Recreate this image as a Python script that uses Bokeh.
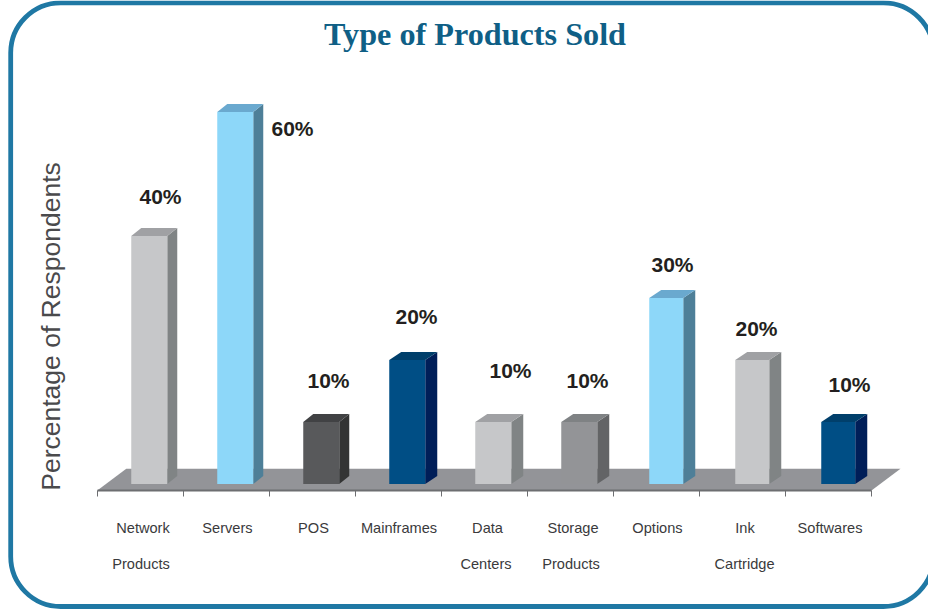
from bokeh.plotting import figure
from bokeh.models import ColumnDataSource, BoxAnnotation, LinearAxis, FixedTicker, Range1d
from bokeh.core.properties import value as val
from bokeh.embed import file_html
from bokeh.resources import INLINE

categories = ["Network Products", "Servers", "POS", "Mainframes", "Data Centers",
              "Storage Products", "Options", "Ink Cartridge", "Softwares"]
values = [40, 60, 10, 20, 10, 10, 30, 20, 10]
title_text = "Type of Products Sold"
ylabel_text = "Percentage of Respondents"

front_colors = ["#C6C7C9", "#8DD7F9", "#58595B", "#004E85", "#C6C7C9", "#939497", "#8DD7F9", "#C6C7C9", "#004E85"]
side_colors = ["#808485", "#4E7F98", "#333434", "#001E58", "#808485", "#636466", "#4E7F98", "#808485", "#001E58"]
top_colors = ["#A0A1A4", "#6AA9CF", "#414244", "#003F6B", "#A0A1A4", "#7F8284", "#6AA9CF", "#A0A1A4", "#003F6B"]

# small differences in the drawing of each 3-D box, in pixels
bar_width_px = [36, 36, 36, 36, 36, 36, 34, 34, 34]
bar_shift_px = [0, 0, 0, 0, 0, 0, 1, 1, 1]
bar_depth_px = [10, 10, 10, 12, 12, 12, 12, 12, 12]

PX_X = 86.0   # pixels per category
PX_Y = 6.2    # pixels per percentage point
W, H = 928, 611
X0_PX, Y0_PX = 148.75, 483.5

p = figure(width=W, height=H, output_backend="svg", toolbar_location=None,
           x_range=Range1d(-X0_PX / PX_X, (W - X0_PX) / PX_X),
           y_range=Range1d((Y0_PX - H) / PX_Y, Y0_PX / PX_Y),
           min_border=0, outline_line_color=None, background_fill_color="white")
p.xaxis.visible = False
p.yaxis.visible = False
p.grid.visible = False
p.renderers = []

dy = 8 / PX_Y
n = len(values)
idx = list(range(n))
lefts = [i + (bar_shift_px[i] - bar_width_px[i] / 2) / PX_X for i in idx]
rights = [i + (bar_shift_px[i] + bar_width_px[i] / 2) / PX_X for i in idx]
depths = [d / PX_X for d in bar_depth_px]

# floor
edge_l, edge_r = -52 / PX_X, n - 1 + 34.25 / PX_X
floor_b, floor_t = -6.5 / PX_Y, 15.2 / PX_Y
shift = 29 / PX_X
p.patch([edge_l, edge_r, edge_r + shift, edge_l + shift], [floor_b, floor_b, floor_t, floor_t],
        fill_color="#939498", line_color=None)

# bar faces
p.patches([[r, r + d, r + d, r] for r, d in zip(rights, depths)],
          [[0, dy, v + dy, v] for v in values], fill_color=side_colors, line_color=None)
p.patches([[l, r, r + d, l + d] for l, r, d in zip(lefts, rights, depths)],
          [[v, v, v + dy, v + dy] for v in values], fill_color=top_colors, line_color=None)
p.quad(left=lefts, right=rights, bottom=[0] * n, top=values,
       fill_color=front_colors, line_color=None)

# axis with ticks between the categories
axis = LinearAxis(ticker=FixedTicker(ticks=[edge_l + i for i in range(n + 1)]),
                  fixed_location=floor_b, bounds=(edge_l, edge_r),
                  axis_line_color="#6D6E71", axis_line_width=2,
                  major_tick_line_color="#6D6E71", major_tick_line_width=1,
                  major_tick_in=0, major_tick_out=6, minor_tick_line_color=None,
                  major_label_text_font_size="0px", major_label_text_color=None)
p.add_layout(axis, "below")

# category labels in up to two lines
first_dx = [-6.25, -7.75, -7.75, -8.25, -5.75, -6.25, -7.75, -6.25, -7.25]
second_dx = [-8.25, 0, 0, 0, -7.25, -8.25, 0, -6.75, 0]
line_x, line_y, line_t, line_o = [], [], [], []
for i, cat in enumerate(categories):
    parts = cat.split(" ")
    for j, part in enumerate(parts):
        line_x.append(i)
        line_y.append((Y0_PX - (527 if j == 0 else 563)) / PX_Y)
        line_t.append(part)
        line_o.append(first_dx[i] if j == 0 else second_dx[i])
p.text(x="x", y="y", text="t", x_offset="o",
       source=ColumnDataSource(dict(x=line_x, y=line_y, t=line_t, o=line_o)),
       text_font=val("Liberation Sans"), text_font_size="14.6px", text_color="#3A3A3C",
       text_align="center", text_baseline="middle")

# value labels
label_dx = [11.25, 57.25, 7.25, 9.25, 17.25, 8.25, 7.25, 5.25, 12.25]
label_dy = [-39.5, 16.5, -41.5, -43.5, -51.5, -41.5, -33.5, -31.5, -37.5]
p.text(x="x", y="y", text="t", x_offset="ox", y_offset="oy",
       source=ColumnDataSource(dict(x=idx, y=values, t=[f"{v}%" for v in values],
                                    ox=label_dx, oy=label_dy)),
       text_font=val("Liberation Sans"), text_font_style="bold", text_font_size="21px",
       text_color="#231F20", text_align="center", text_baseline="middle")

# title and y label
p.text(x=[(474.5 - X0_PX) / PX_X], y=[(Y0_PX - 33) / PX_Y], text=[title_text],
       text_font=val("Liberation Serif"), text_font_style="bold", text_font_size="32.2px",
       text_color="#0F5F86", text_align="center", text_baseline="middle")
p.text(x=[(50.5 - X0_PX) / PX_X], y=[(Y0_PX - 326) / PX_Y], text=[ylabel_text], angle=[1.5708],
       text_font=val("Liberation Sans"), text_font_size="26.5px",
       text_color="#4A4A4C", text_align="center", text_baseline="middle")

# rounded frame
frame = BoxAnnotation(left=10.2, right=933, top=5, bottom=608.7,
                      left_units="screen", right_units="screen", top_units="screen", bottom_units="screen",
                      fill_alpha=0, line_color="#1F78A4", line_width=4.8, line_alpha=1, border_radius=50)
p.add_layout(frame)

open("out.html", "w").write(file_html(p, INLINE))
